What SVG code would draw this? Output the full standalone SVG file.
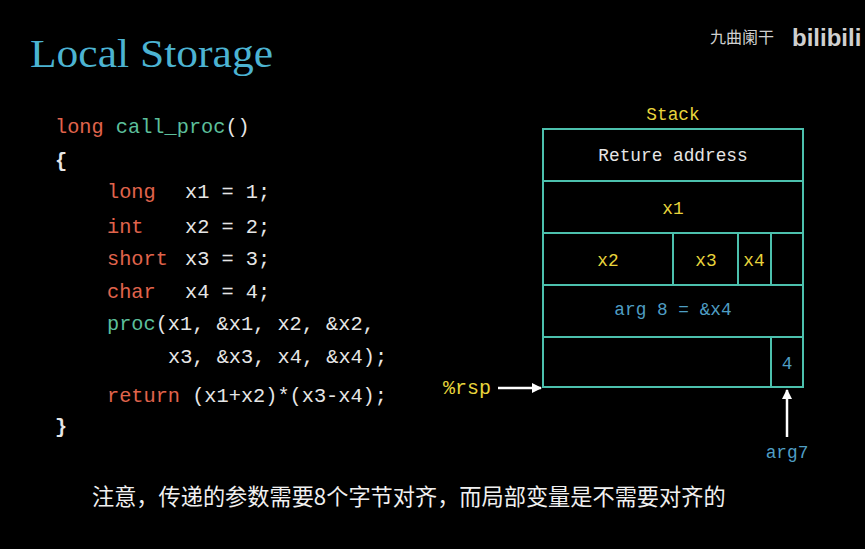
<svg xmlns="http://www.w3.org/2000/svg" width="865" height="549" viewBox="0 0 865 549">
<style>
.code{font-family:"Liberation Mono","DejaVu Sans Mono",monospace;font-size:20.3px;fill:#e6e6e6}
.kw{fill:#e0644c}
.fn{fill:#5cbf9b}
.cell{fill:none;stroke:#4cc0ad;stroke-width:2}
.st{font-family:"Liberation Mono","DejaVu Sans Mono",monospace;font-size:17.8px;text-anchor:middle}
.yel{fill:#e8d43c}
.blu{fill:#4f9ec4}
.wht{fill:#e6e6e6}
</style>
<defs>
<marker id="ah" markerWidth="10" markerHeight="10" refX="9" refY="5" orient="auto" markerUnits="userSpaceOnUse">
<path d="M0,0 L10,5 L0,10 z" fill="#ffffff"/>
</marker>
</defs>
<rect width="865" height="549" fill="#000"/>
<g id="title">
<text x="30" y="67" font-family="Liberation Serif,serif" font-size="41" fill="#4cb3d2" textLength="243" lengthAdjust="spacingAndGlyphs">Local Storage</text>
</g>
<g id="watermark">
<text x="710" y="43" font-family="Noto Sans CJK SC,sans-serif" font-size="16" fill="#d0d0d0">九曲阑干</text>
<text x="792" y="46" font-family="Liberation Sans,sans-serif" font-size="24" font-weight="bold" fill="#d0d0d0">bilibili</text>
</g>
<g id="code">
<text class="code" x="55" y="133"><tspan class="kw">long</tspan> <tspan class="fn">call_proc</tspan>()</text>
<text class="code" x="55" y="167" font-weight="bold">{</text>
<text class="code kw" x="107" y="198">long</text><text class="code" x="185" y="198">x1 = 1;</text>
<text class="code kw" x="107" y="233">int</text><text class="code" x="185" y="233">x2 = 2;</text>
<text class="code kw" x="107" y="265">short</text><text class="code" x="185" y="265">x3 = 3;</text>
<text class="code kw" x="107" y="298">char</text><text class="code" x="185" y="298">x4 = 4;</text>
<text class="code" x="107" y="330"><tspan class="fn">proc</tspan>(x1, &amp;x1, x2, &amp;x2,</text>
<text class="code" x="168" y="363">x3, &amp;x3, x4, &amp;x4);</text>
<text class="code" x="107" y="402"><tspan class="kw">return</tspan> (x1+x2)*(x3-x4);</text>
<text class="code" x="55" y="433" font-weight="bold">}</text>
</g>
<g id="stack">
<text class="st yel" x="673" y="120" font-size="20">Stack</text>
<rect class="cell" x="543" y="129" width="260" height="258"/>
<line class="cell" x1="543" y1="181" x2="803" y2="181"/>
<line class="cell" x1="543" y1="233" x2="803" y2="233"/>
<line class="cell" x1="543" y1="285" x2="803" y2="285"/>
<line class="cell" x1="543" y1="337" x2="803" y2="337"/>
<line class="cell" x1="673" y1="233" x2="673" y2="285"/>
<line class="cell" x1="738" y1="233" x2="738" y2="285"/>
<line class="cell" x1="771" y1="233" x2="771" y2="285"/>
<line class="cell" x1="771" y1="337" x2="771" y2="387"/>
<text class="st wht" x="673" y="161">Reture address</text>
<text class="st yel" x="673" y="214">x1</text>
<text class="st yel" x="608" y="266">x2</text>
<text class="st yel" x="706" y="266">x3</text>
<text class="st yel" x="754" y="266" font-size="16">x4</text>
<text class="st blu" x="673" y="315">arg 8 = &amp;x4</text>
<text class="st blu" x="787" y="369">4</text>
</g>
<g id="labels">
<text x="443" y="394" font-family="Liberation Mono,monospace" font-size="20" class="yel">%rsp</text>
<text class="st blu" x="787" y="458">arg7</text>
</g>
<g id="connectors">
<line x1="498" y1="388" x2="541" y2="388" stroke="#fff" stroke-width="2.5" marker-end="url(#ah)"/>
<line x1="787" y1="437" x2="787" y2="390" stroke="#fff" stroke-width="2.5" marker-end="url(#ah)"/>
</g>
<g id="note">
<text x="92" y="505" font-family="Noto Sans CJK SC,sans-serif" font-size="22.2" fill="#f0f0f0">注意，传递的参数需要8个字节对齐，而局部变量是不需要对齐的</text>
</g>
</svg>
